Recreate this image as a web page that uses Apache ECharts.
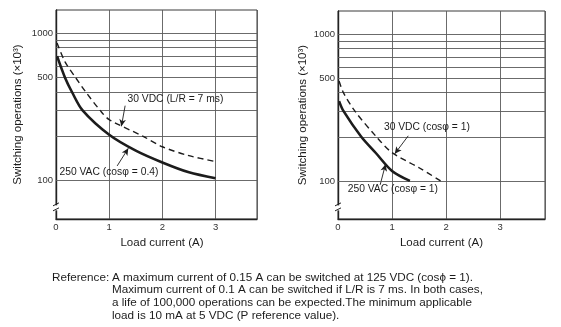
<!DOCTYPE html>
<html>
<head>
<meta charset="utf-8">
<script src="https://cdn.jsdelivr.net/npm/echarts@6/dist/echarts.min.js"></script>
<style>
  html, body { margin: 0; padding: 0; background: #fff; }
  #chart { width: 561px; height: 327px; }
</style>
</head>
<body>
<div id="chart"></div>
<script>
// Switching life (x10^3 operations) against load current (A)
const acCos04Current = [0.02, 0.17, 0.3, 0.5, 1.0, 1.5, 2.0, 2.5, 3.0];
const acCos04Ops     = [700, 500, 400, 300, 205, 160, 133, 114, 104];
const dcLR7Current   = [0.02, 0.17, 0.37, 0.56, 0.83, 1.0, 1.64, 2.0, 2.5, 3.0];
const dcLR7Ops       = [860, 640, 500, 400, 300, 260, 200, 170, 148, 135];
const acCos1Current  = [0.02, 0.1, 0.43, 0.7, 1.0, 1.33];
const acCos1Ops      = [350, 300, 200, 155, 117, 100];
const dcCos1Current  = [0.02, 0.1, 0.31, 0.71, 1.0, 1.5, 1.9];
const dcCos1Ops      = [480, 400, 300, 200, 156, 123, 100];

// Axis ticks
const opsGridValues = [100, 200, 300, 400, 500, 600, 700, 800, 900, 1000];
const opsTickLabels = [100, 500, 1000];
const currentTicks  = [0, 1, 2, 3];

// Curve captions: [text, current, ops] anchor of the caption's left edge
const captionDcLR7  = ['30 VDC (L/R = 7 ms)', 1.335, 355];
const captionAc04   = ['250 VAC (cos\u03c6 = 0.4)', 0.056, 115];
const captionDc1    = ['30 VDC (cos\u03c6 = 1)', 0.84, 233];
const captionAc1    = ['250 VAC (cos\u03c6 = 1)', 0.17, 88.5];

// Leader lines: [fromCurrent, fromOps, toCurrent, toOps]
const leaderDcLR7 = [1.30, 323, 1.23, 234];
const leaderAc04  = [1.15, 126, 1.36, 166];
const leaderDc1   = [1.30, 203, 1.05, 153];
const leaderAc1   = [0.78, 94, 0.88, 130];

const noteLines = [
  'A maximum current of 0.15 A can be switched at 125 VDC (cos\u03d5 = 1).',
  'Maximum current of 0.1 A can be switched if L/R is 7 ms. In both cases,',
  'a life of 100,000 operations can be expected.The minimum applicable',
  'load is 10 mA at 5 VDC (P reference value).'
];

const FONT = '"Liberation Sans", Arial, Helvetica, sans-serif';
const INK = '#1c1c1c';
const GRID_COLOR = '#5a5a5a';

const pairs = (xs, ys) => xs.map((x, i) => [x, ys[i]]);

function gridMarkLines() {
  return opsGridValues.map(v => ({
    yAxis: v,
    label: {
      show: opsTickLabels.includes(v),
      formatter: String(v)
    }
  }));
}

function leader(l) {
  return [
    { coord: [l[0], l[1]], symbol: 'none' },
    { coord: [l[2], l[3]], symbol: 'arrow', symbolSize: [5, 7] }
  ];
}

function caption(c) {
  return {
    coord: [c[1], c[2]],
    label: { formatter: c[0] }
  };
}

function curveSeries(idx, xs, ys, dashed, cap, lead, withGrid) {
  const mlData = [leader(lead)];
  if (withGrid) mlData.push(...gridMarkLines());
  return {
    type: 'line',
    xAxisIndex: idx,
    yAxisIndex: idx,
    data: pairs(xs, ys),
    showSymbol: false,
    smooth: 0.3,
    silent: true,
    z: 5,
    lineStyle: dashed
      ? { color: INK, width: 1.4, type: [6, 4] }
      : { color: INK, width: 2.6, type: 'solid' },
    markLine: {
      silent: true,
      symbol: 'none',
      animation: false,
      precision: 3,
      lineStyle: { color: GRID_COLOR, width: 0.9, type: 'solid' },
      label: {
        position: 'start',
        distance: 3,
        fontFamily: FONT,
        fontSize: 9.5,
        color: '#333'
      },
      data: mlData.map(d => Array.isArray(d)
        ? d.map(p => Object.assign({ lineStyle: { color: INK, width: 0.9 }, label: { show: false } }, p))
        : d)
    },
    markPoint: {
      silent: true,
      symbol: 'circle',
      symbolSize: 1,
      itemStyle: { color: 'rgba(0,0,0,0)' },
      animation: false,
      label: {
        show: true,
        position: 'right',
        distance: 0,
        fontFamily: FONT,
        fontSize: 10.3,
        color: INK
      },
      data: [caption(cap)]
    }
  };
}

const grids = [
  { left: 56, top: 10, width: 201, height: 209 },
  { left: 338, top: 11, width: 207, height: 208 }
];
const xMax = [3.78, 3.83];

const option = {
  backgroundColor: '#fff',
  animation: false,
  grid: grids.map(g => Object.assign({
    containLabel: false,
    show: true,
    borderColor: '#3a3a3a',
    borderWidth: 1,
    backgroundColor: 'transparent'
  }, g)),
  xAxis: [0, 1].map(i => ({
    type: 'value',
    gridIndex: i,
    min: 0,
    max: xMax[i],
    interval: 1,
    name: 'Load current (A)',
    nameLocation: 'middle',
    nameGap: 18,
    nameMoveOverlap: false,
    nameTextStyle: {
      fontFamily: FONT, fontSize: 11.5, color: INK,
      padding: i === 0 ? [0, 0, 0, 11] : [0, 0, 0, 0]
    },
    axisLine: { show: true, lineStyle: { color: '#222', width: 1.4 } },
    axisTick: { show: false },
    axisLabel: {
      margin: 3,
      fontFamily: FONT, fontSize: 9.5, color: '#333',
      formatter: v => currentTicks.includes(v) ? String(v) : ''
    },
    splitLine: { show: true, lineStyle: { color: GRID_COLOR, width: 0.9 } }
  })),
  yAxis: [0, 1].map(i => ({
    type: 'log',
    logBase: 10,
    gridIndex: i,
    min: 55,
    max: 1440,
    name: 'Switching operations (\u00d710\u00b3)',
    nameLocation: 'middle',
    nameRotate: 90,
    nameGap: i === 0 ? 32 : 29,
    nameMoveOverlap: false,
    nameTextStyle: { fontFamily: FONT, fontSize: 11.5, color: INK },
    axisLine: { show: true, lineStyle: { color: '#222', width: 1.4 } },
    axisTick: { show: false },
    axisLabel: { show: false },
    splitLine: { show: false }
  })),
  series: [
    curveSeries(0, acCos04Current, acCos04Ops, false, captionAc04, leaderAc04, true),
    curveSeries(0, dcLR7Current, dcLR7Ops, true, captionDcLR7, leaderDcLR7, false),
    curveSeries(1, acCos1Current, acCos1Ops, false, captionAc1, leaderAc1, true),
    curveSeries(1, dcCos1Current, dcCos1Ops, true, captionDc1, leaderDc1, false)
  ]
};

const chart = echarts.init(document.getElementById('chart'), null, { renderer: 'canvas' });
chart.setOption(option);

// Axis-break marks on each vertical axis, plus the reference note underneath
const graphics = [];
[0, 1].forEach(i => {
  const p = chart.convertToPixel({ gridIndex: i }, [0, 66]);
  const x = p[0], y = p[1];
  graphics.push({
    type: 'rect', shape: { x: x - 2, y: y - 2, width: 4, height: 5 },
    style: { fill: '#fff' }, silent: true, z: 50
  });
  [-3, 2].forEach(dy => graphics.push({
    type: 'line',
    shape: { x1: x - 3, y1: y + dy + 1.5, x2: x + 3, y2: y + dy - 1.5 },
    style: { stroke: '#222', lineWidth: 1 }, silent: true, z: 51
  }));
});
const noteFont = '11.7px ' + FONT;
graphics.push({
  type: 'text', left: 52, top: 271, silent: true,
  style: { text: 'Reference:', font: noteFont, fill: INK, lineHeight: 12.7 }
});
graphics.push({
  type: 'text', left: 112, top: 271, silent: true,
  style: { text: noteLines.join('\n'), font: noteFont, fill: INK, lineHeight: 12.7 }
});
chart.setOption({ graphic: graphics });
</script>
</body>
</html>
